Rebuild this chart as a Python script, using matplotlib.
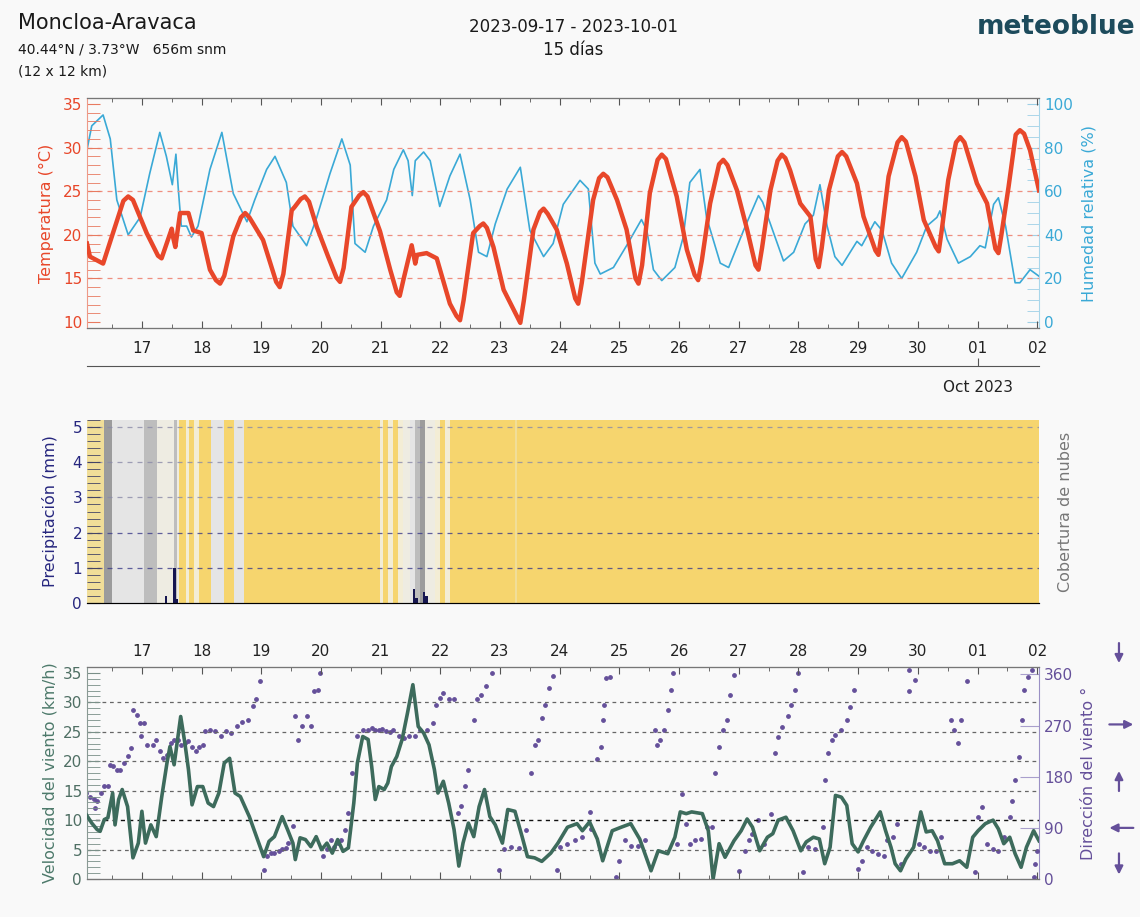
import matplotlib
matplotlib.use('Agg')
import matplotlib.pyplot as plt
import matplotlib.transforms as mtransforms
from matplotlib.colors import ListedColormap, BoundaryNorm
from matplotlib.ticker import MultipleLocator
import numpy as np

# time axis: days since 2023-09-17 00:00
t_start, t_end = -0.92, 15.03
day_labels = ['17', '18', '19', '20', '21', '22', '23', '24', '25', '26',
              '27', '28', '29', '30', '01', '02']

temp_t = [-0.92, -0.87, -0.65, -0.31, -0.23, -0.15, 0.08, 0.27, 0.33, 0.50, 0.52,
          0.56, 0.64, 0.78, 0.86, 1.00, 1.14, 1.24, 1.31, 1.38, 1.53, 1.66, 1.73,
          1.80, 2.03, 2.25, 2.31, 2.37, 2.51, 2.56, 2.66, 2.73, 2.80, 2.93, 3.12,
          3.26, 3.32, 3.38, 3.51, 3.64, 3.71, 3.78, 3.99, 4.16, 4.27, 4.32, 4.38,
          4.52, 4.58, 4.61, 4.77, 4.94, 5.16, 5.27, 5.33, 5.39, 5.55, 5.66, 5.72,
          5.78, 5.89, 6.06, 6.29, 6.34, 6.40, 6.56, 6.67, 6.73, 6.80, 6.95, 7.12,
          7.26, 7.31, 7.37, 7.56, 7.66, 7.73, 7.80, 7.96, 8.12, 8.27, 8.32, 8.38,
          8.51, 8.64, 8.71, 8.78, 8.96, 9.13, 9.26, 9.32, 9.38, 9.52, 9.67, 9.74,
          9.81, 9.97, 10.14, 10.28, 10.33, 10.39, 10.53, 10.65, 10.72, 10.78,
          10.86, 11.03, 11.20, 11.29, 11.34, 11.39, 11.51, 11.66, 11.73, 11.80,
          11.98, 12.09, 12.29, 12.34, 12.39, 12.51, 12.66, 12.73, 12.80, 12.96,
          13.10, 13.30, 13.35, 13.40, 13.51, 13.64, 13.71, 13.78, 13.99, 14.16,
          14.30, 14.35, 14.40, 14.52, 14.64, 14.71, 14.78, 14.88, 15.03]
temp_c = [19.0, 17.5, 16.7, 23.9, 24.4, 24.0, 20.2, 17.6, 17.3, 20.7, 19.8,
          18.6, 22.5, 22.5, 20.5, 20.2, 16.0, 14.8, 14.4, 15.3, 19.8, 22.0, 22.5,
          22.0, 19.4, 14.6, 14.0, 15.5, 22.8, 23.2, 24.1, 24.4, 23.8, 20.9, 17.5,
          15.1, 14.6, 16.2, 23.2, 24.5, 24.9, 24.4, 20.4, 16.0, 13.4, 13.0, 14.8,
          18.8, 16.7, 17.7, 17.9, 17.3, 12.1, 10.7, 10.2, 12.5, 20.2, 21.0, 21.3,
          20.8, 18.6, 13.7, 10.6, 9.9, 12.5, 20.6, 22.6, 23.0, 22.4, 20.6, 16.7,
          12.7, 12.1, 14.5, 24.0, 26.5, 27.0, 26.6, 24.0, 20.6, 15.0, 14.4, 16.5,
          24.8, 28.6, 29.2, 28.7, 24.4, 18.3, 15.4, 14.8, 17.0, 23.6, 28.1, 28.6,
          28.0, 25.1, 20.6, 16.5, 16.0, 18.5, 25.1, 28.5, 29.2, 28.8,
          27.4, 23.6, 22.1, 17.2, 16.3, 18.5, 25.1, 29.0, 29.5, 29.0,
          25.9, 22.1, 18.2, 17.7, 20.0, 26.7, 30.6, 31.2, 30.7, 26.7,
          21.7, 18.6, 18.1, 20.5, 26.3, 30.6, 31.2, 30.6, 25.9, 23.6,
          18.4, 17.9, 20.0, 25.5, 31.5, 32.0, 31.6, 29.7, 25.1]

hum_t = [-0.92, -0.84, -0.65, -0.53, -0.42, -0.23, -0.03, 0.13, 0.30, 0.41, 0.51, 0.57,
         0.61, 0.66, 0.75, 0.83, 0.94, 1.14, 1.34, 1.53, 1.76, 1.89, 2.09, 2.23,
         2.42, 2.53, 2.76, 2.93, 3.15, 3.35, 3.49, 3.57, 3.74, 3.88, 4.10, 4.22,
         4.38, 4.46, 4.53, 4.58, 4.72, 4.83, 4.99, 5.16, 5.33, 5.50, 5.64, 5.78,
         5.92, 6.12, 6.34, 6.50, 6.73, 6.89, 7.06, 7.34, 7.48, 7.59, 7.68, 7.90,
         8.12, 8.37, 8.46, 8.57, 8.71, 8.93, 9.07, 9.18, 9.35, 9.46, 9.69, 9.83,
         10.08, 10.33, 10.40, 10.53, 10.75, 10.92, 11.11, 11.25, 11.36, 11.48,
         11.61, 11.73, 11.98, 12.06, 12.28, 12.40, 12.56, 12.73, 12.98, 13.15,
         13.32, 13.37, 13.49, 13.68, 13.88, 14.04, 14.13, 14.27, 14.35, 14.47,
         14.63, 14.71, 14.88, 15.03]
hum_pct = [79, 90, 95, 84, 56, 40, 48, 68, 87, 76, 63, 77,
           61, 44, 44, 39, 44, 70, 87, 59, 46, 56, 70, 76,
           64, 44, 35, 48, 68, 84, 72, 36, 32, 44, 56, 70,
           79, 74, 58, 74, 78, 74, 53, 67, 77, 56, 32, 30,
           45, 61, 71, 42, 30, 36, 54, 65, 61, 27, 22, 25,
           35, 47, 42, 24, 19, 25, 39, 64, 70, 48, 27, 25,
           42, 58, 55, 45, 28, 32, 45, 49, 63, 44,
           30, 26, 37, 35, 46, 42, 27, 20, 32, 44,
           48, 51, 38, 27, 30, 35, 34, 54, 57, 44,
           18, 18, 24, 21]

# precipitation (mm per hour)
rain_t = [0.40, 0.55, 0.59, 4.56, 4.60, 4.73, 4.77]
rain_mm = [0.2, 1.0, 0.1, 0.4, 0.15, 0.3, 0.2]

# cloud cover: hour offsets from start and cover (%)
cloud_h = [0, 7, 10, 23, 26, 28, 35, 36, 37, 40, 41, 43, 45, 50, 55, 59, 63,
           118, 119, 121, 123, 125, 127, 130, 132, 134, 136, 140, 142, 144, 146,
           172, 173, 383]
cloud_pct = [30, 95, 75, 85, 80, 55, 85, 55, 0, 35, 0, 35, 0, 75, 0, 75, 0,
             35, 0, 35, 0, 35, 60, 75, 80, 92, 55, 40, 0, 40, 0, 30, 0]

wind_t = [-0.93, -0.84, -0.75, -0.70, -0.63, -0.57, -0.49, -0.45, -0.39, -0.33, -0.24,
          -0.15, -0.06, 0.00, 0.06, 0.15, 0.24, 0.33, 0.42, 0.47, 0.54, 0.65, 0.72,
          0.78, 0.84, 0.93, 1.02, 1.11, 1.20, 1.29, 1.38, 1.47, 1.56, 1.65, 1.80,
          1.92, 2.04, 2.13, 2.22, 2.35, 2.44, 2.53, 2.57, 2.65, 2.74, 2.83, 2.92,
          3.01, 3.10, 3.19, 3.28, 3.37, 3.46, 3.55, 3.61, 3.70, 3.79, 3.85, 3.91,
          3.97, 4.06, 4.12, 4.18, 4.27, 4.36, 4.45, 4.54, 4.63, 4.72, 4.81, 4.90,
          4.96, 5.05, 5.14, 5.23, 5.31, 5.38, 5.47, 5.56, 5.65, 5.74, 5.83, 5.92,
          6.04, 6.13, 6.25, 6.37, 6.46, 6.58, 6.70, 6.85, 6.97, 7.13, 7.29, 7.38,
          7.50, 7.63, 7.72, 7.88, 8.03, 8.19, 8.34, 8.53, 8.65, 8.81, 8.93, 9.02,
          9.12, 9.21, 9.39, 9.49, 9.57, 9.67, 9.77, 9.92, 10.04, 10.14, 10.23,
          10.35, 10.48, 10.57, 10.66, 10.79, 10.91, 11.04, 11.13, 11.25, 11.35,
          11.44, 11.53, 11.62, 11.72, 11.81, 11.90, 12.00, 12.09, 12.21, 12.37,
          12.46, 12.55, 12.62, 12.71, 12.80, 12.93, 13.05, 13.14, 13.24, 13.33,
          13.45, 13.58, 13.70, 13.82, 13.92, 14.01, 14.13, 14.26, 14.35, 14.44,
          14.54, 14.63, 14.73, 14.82, 14.94, 15.03]
wind_kmh = [10.9, 9.5, 8.4, 8.1, 10.1, 10.4, 14.6, 9.2, 13.5, 15.2, 12.3,
            3.6, 6.1, 11.5, 6.1, 9.2, 7.2, 13.8, 19.7, 22.5, 19.4, 27.6, 23.1,
            18.6, 12.6, 15.7, 15.7, 12.9, 12.3, 14.6, 19.7, 20.5, 14.6, 14.0, 10.6,
            7.2, 3.8, 6.4, 7.2, 10.6, 8.4, 6.1, 3.3, 7.0, 6.7, 5.5, 7.2,
            5.0, 6.1, 4.4, 6.7, 4.7, 5.3, 12.9, 19.7, 24.2, 23.7, 19.1, 13.5,
            15.7, 15.2, 16.3, 19.1, 20.8, 23.7, 28.2, 33.0, 25.9, 24.8, 22.8, 18.6,
            14.6, 16.6, 12.9, 8.4, 2.2, 6.1, 9.5, 7.2, 12.3, 15.2, 10.6, 9.2,
            6.1, 11.8, 11.5, 7.2, 3.8, 3.6, 3.0, 4.4, 6.1, 8.8, 9.4, 8.2,
            9.7, 6.8, 3.1, 8.2, 8.8, 9.4, 6.8, 1.4, 4.8, 4.3, 7.1, 11.4,
            11.1, 11.4, 11.1, 8.2, 0.0, 6.0, 3.7, 6.5, 8.2, 10.2, 8.8,
            4.8, 7.1, 7.7, 10.0, 10.5, 8.2, 4.8, 6.3, 7.1, 6.8,
            2.6, 5.4, 14.2, 13.9, 12.5, 6.0, 4.6, 6.5, 8.8, 11.4,
            8.2, 5.4, 2.6, 1.4, 3.4, 5.4, 11.4, 8.0, 8.2, 6.5,
            2.6, 2.6, 3.1, 2.0, 7.1, 8.2, 9.4, 10.0, 8.5, 6.0,
            7.1, 4.3, 2.0, 5.4, 8.2, 6.5]

dir_t = [-0.93, -0.87, -0.81, -0.78, -0.75, -0.69, -0.63, -0.57, -0.54, -0.48, -0.42,
         -0.36, -0.30, -0.24, -0.18, -0.15, -0.09, -0.03, -0.01, 0.03, 0.09, 0.18,
         0.24, 0.30, 0.36, 0.42, 0.48, 0.54, 0.60, 0.66, 0.72, 0.78, 0.84, 0.90,
         0.96, 1.02, 1.05, 1.14, 1.23, 1.32, 1.41, 1.50, 1.59, 1.68, 1.77, 1.86,
         1.92, 1.98, 2.04, 2.10, 2.16, 2.22, 2.29, 2.35, 2.41, 2.44, 2.53, 2.56,
         2.62, 2.68, 2.77, 2.83, 2.89, 2.95, 2.99, 3.04, 3.10, 3.16, 3.22, 3.28,
         3.34, 3.40, 3.46, 3.52, 3.61, 3.70, 3.79, 3.85, 3.91, 3.97, 4.03, 4.09,
         4.15, 4.21, 4.30, 4.39, 4.48, 4.57, 4.66, 4.78, 4.87, 4.93, 4.99, 5.05,
         5.14, 5.23, 5.29, 5.35, 5.41, 5.47, 5.56, 5.62, 5.68, 5.77, 5.86, 5.98,
         6.07, 6.19, 6.31, 6.43, 6.52, 6.58, 6.64, 6.70, 6.76, 6.82, 6.89, 6.95,
         7.01, 7.13, 7.26, 7.38, 7.50, 7.53, 7.63, 7.69, 7.72, 7.75, 7.78, 7.85,
         7.94, 8.00, 8.09, 8.19, 8.31, 8.43, 8.59, 8.63, 8.68, 8.74, 8.81, 8.87,
         8.90, 8.96, 9.05, 9.12, 9.18, 9.27, 9.36, 9.46, 9.55, 9.61, 9.67, 9.73,
         9.80, 9.86, 9.92, 10.01, 10.11, 10.17, 10.23, 10.32, 10.42, 10.54, 10.60,
         10.66, 10.73, 10.82, 10.88, 10.94, 11.00, 11.07, 11.16, 11.28, 11.41,
         11.44, 11.50, 11.56, 11.62, 11.72, 11.81, 11.87, 11.93, 12.00, 12.06,
         12.15, 12.24, 12.34, 12.43, 12.49, 12.59, 12.65, 12.71, 12.86, 12.86,
         12.96, 13.02, 13.11, 13.20, 13.30, 13.39, 13.55, 13.61, 13.67, 13.73,
         13.82, 13.95, 14.01, 14.07, 14.16, 14.26, 14.35, 14.44, 14.54, 14.57,
         14.63, 14.69, 14.75, 14.78, 14.85, 14.91, 14.94, 14.96, 15.00]
dir_deg = [151, 145, 140, 125, 137, 151, 163, 163, 201, 198, 192,
           192, 204, 216, 230, 298, 289, 274, 251, 274, 236, 236,
           245, 225, 213, 219, 239, 245, 245, 236, 239, 242, 233, 225,
           233, 236, 260, 263, 260, 251, 260, 257, 269, 277, 280, 304,
           316, 348, 16, 40, 46, 46, 49, 52, 55, 63, 93, 286,
           245, 269, 286, 269, 330, 333, 362, 40, 52, 69, 57, 63,
           69, 87, 116, 187, 251, 263, 263, 265, 263, 262, 264, 260,
           258, 262, 251, 248, 251, 251, 263, 263, 274, 307, 318, 327,
           316, 316, 116, 128, 163, 192, 280, 316, 324, 339, 362, 16,
           52, 57, 55, 87, 187, 236, 245, 283, 307, 336, 357, 16,
           56, 62, 68, 74, 118, 88, 212, 233, 280, 306, 353, 356,
           3, 32, 68, 59, 59, 68, 262, 236, 244, 262, 297, 333,
           362, 62, 150, 97, 62, 68, 71, 91, 91, 186, 233, 262,
           280, 324, 359, 15, 50, 68, 80, 103, 62, 115, 221,
           250, 268, 286, 306, 333, 362, 12, 56, 53, 91,
           174, 221, 244, 253, 262, 280, 303, 333, 18, 32,
           56, 50, 44, 41, 68, 74, 97, 27, 368, 330,
           350, 62, 56, 50, 50, 74, 280, 262, 239, 280,
           348, 12, 109, 127, 62, 53, 50, 74, 109, 138,
           174, 215, 280, 333, 356, 368, 3, 26, 50]

c_temp = '#e8472a'
c_hum = '#3aa9d6'
c_rain = '#27277f'
c_wind = '#3d6b5c'
c_dir = '#65509a'
bg = '#f9f9f9'

fig = plt.figure(figsize=(11.4, 9.17), dpi=100, facecolor=bg)


def day_axis(ax, labeltop=False):
    ax.set_xlim(t_start, t_end)
    ax.set_xticks(range(len(day_labels)))
    ax.set_xticklabels(day_labels)
    ax.xaxis.set_minor_locator(MultipleLocator(0.5))
    ax.tick_params(axis='x', which='both', direction='in', top=True, bottom=True,
                   color='#555555', labelsize=11, labelcolor='#222222')
    ax.tick_params(axis='x', which='major', length=5)
    ax.tick_params(axis='x', which='minor', length=3)
    if labeltop:
        ax.tick_params(axis='x', labeltop=True, labelbottom=False, pad=6)


# ---- temperature / humidity ----
ax1 = fig.add_axes([0.0763, 0.6423, 0.8351, 0.2508], facecolor=bg)
day_axis(ax1)
ax1.tick_params(axis='x', pad=9)
ax1.set_ylim(9.31, 35.69)
ax1.set_yticks([10, 15, 20, 25, 30, 35])
ax1.yaxis.set_minor_locator(MultipleLocator(1))
ax1.tick_params(axis='y', which='both', direction='in', length=9, color='#e87a60',
                labelcolor=c_temp, labelsize=11)
for v in [15, 20, 25, 30]:
    ax1.axhline(v, color='#ef8f80', lw=0.9, ls=(0, (4, 4)), zorder=1)
ax1.plot(temp_t, temp_c, color=c_temp, lw=3.2, zorder=4, solid_joinstyle='round')
ax1.set_ylabel('Temperatura (°C)', color=c_temp, fontsize=11.5, labelpad=6)

ax1h = ax1.twinx()
ax1h.set_ylim((9.31 - 10) * 4, (35.69 - 10) * 4)
ax1h.set_yticks([0, 20, 40, 60, 80, 100])
ax1h.yaxis.set_minor_locator(MultipleLocator(5))
ax1h.tick_params(axis='y', which='both', direction='in', length=9, color='#9fd0e6',
                 labelcolor=c_hum, labelsize=11)
ax1h.plot(hum_t, hum_pct, color=c_hum, lw=1.2, zorder=3)
ax1h.set_ylabel('Humedad relativa (%)', color=c_hum, fontsize=11.5, labelpad=6)
ax1.set_zorder(ax1h.get_zorder() + 1)
ax1.patch.set_visible(False)
ax1h.patch.set_facecolor(bg)
ax1.spines['left'].set_color('#ee9a88')
ax1.spines['right'].set_visible(False)
ax1h.spines['right'].set_color('#a9d6ea')
ax1h.spines['left'].set_visible(False)
for s in ['top', 'bottom']:
    ax1.spines[s].set_color('#777777')

# month line under the first panel
axm = fig.add_axes([0.0763, 0.601, 0.8351, 0.0001], facecolor=bg)
axm.set_xlim(t_start, t_end)
axm.set_yticks([])
for s in ['top', 'left', 'right']:
    axm.spines[s].set_visible(False)
axm.spines['bottom'].set_color('#555555')
axm.set_xticks([14])
axm.set_xticklabels(['Oct 2023'])
axm.tick_params(axis='x', direction='in', length=6, color='#555555', labelsize=11,
                labelcolor='#222222', pad=10)

# ---- precipitation / cloud cover ----
ax2 = fig.add_axes([0.0763, 0.3424, 0.8351, 0.1996], facecolor=bg)
ax2.set_xlim(t_start, t_end)
ax2.set_ylim(0, 5.2)
cloud_edges = t_start + np.array(cloud_h) / 24.0
cloud_cmap = ListedColormap(['#f6d56e', '#f1de98', '#f3edd5', '#eeece2',
                             '#e5e5e5', '#bdbdbd', '#9c9c9c'])
cloud_norm = BoundaryNorm([0, 15, 32, 50, 65, 78, 88, 101], cloud_cmap.N)
ax2.pcolormesh(cloud_edges, [0, 5.2], np.array([cloud_pct]), cmap=cloud_cmap,
               norm=cloud_norm, zorder=0)
for v in [3, 4, 5]:
    ax2.axhline(v, color='#8a8aa8', lw=0.9, ls=(0, (4, 4)), alpha=0.8, zorder=1)
for v in [1, 2]:
    ax2.axhline(v, color='#3c3c8a', lw=0.9, ls=(0, (4, 4)), alpha=0.8, zorder=1)
ax2.bar(rain_t, rain_mm, width=1 / 24, color='#161650', zorder=3)
ax2.set_xticks(range(len(day_labels)))
ax2.tick_params(axis='x', which='both', bottom=False, top=False, labelbottom=False)
ax2.set_yticks([0, 1, 2, 3, 4, 5])
ax2.yaxis.set_minor_locator(MultipleLocator(0.2))
ax2.tick_params(axis='y', which='both', direction='in', length=9, color='#444466',
                labelcolor=c_rain, labelsize=11)
ax2.set_ylabel('Precipitación (mm)', color=c_rain, fontsize=11.5, labelpad=10)
ax2c = ax2.twinx()
ax2c.set_yticks([])
ax2c.set_ylabel('Cobertura de nubes', color='#777777', fontsize=11.5, labelpad=14)
for a in (ax2, ax2c):
    for s in ['top', 'right', 'left']:
        a.spines[s].set_visible(False)
ax2.spines['bottom'].set_color('#333366')

# ---- wind speed / direction ----
ax3 = fig.add_axes([0.0763, 0.0414, 0.8351, 0.2312], facecolor=bg)
day_axis(ax3, labeltop=True)
ax3.set_ylim(0, 36)
ax3.set_yticks([0, 5, 10, 15, 20, 25, 30, 35])
ax3.yaxis.set_minor_locator(MultipleLocator(1))
ax3.tick_params(axis='y', which='both', direction='in', length=9, color='#7a8f88',
                labelcolor='#4f6f64', labelsize=11)
for v in [5, 15, 20, 25, 30]:
    ax3.axhline(v, color='#666666', lw=0.9, ls=(0, (3, 3)), zorder=1)
ax3.axhline(10, color='#111111', lw=1.0, ls=(0, (3, 3)), zorder=1)
ax3.set_ylabel('Velocidad del viento (km/h)', color='#4d7a6b', fontsize=11.5, labelpad=4)

ax3d = ax3.twinx()
ax3d.set_ylim(0, 373)
ax3d.set_yticks([0, 90, 180, 270, 360])
ax3d.tick_params(axis='y', direction='in', length=14, color='#a99fcc',
                 labelcolor=c_dir, labelsize=11)
ax3d.scatter(dir_t, dir_deg, s=6, color=c_dir, zorder=3)
ax3d.set_ylabel('Dirección del viento °', color=c_dir, fontsize=11.5, labelpad=6)
ax3.set_zorder(ax3d.get_zorder() + 1)
ax3.patch.set_visible(False)
ax3d.patch.set_facecolor(bg)
ax3.plot(wind_t, wind_kmh, color=c_wind, lw=2.6, zorder=4, solid_joinstyle='round')
ax3.spines['left'].set_color('#8a9a94')
ax3.spines['right'].set_visible(False)
ax3d.spines['right'].set_color('#9a90c4')
ax3d.spines['left'].set_visible(False)
for s in ['top', 'bottom']:
    ax3.spines[s].set_color('#777777')

# compass arrows beside the direction axis
tr = mtransforms.blended_transform_factory(ax3d.transAxes, ax3d.transData)
arrow_kw = dict(arrowstyle='-|>', color=c_dir, lw=1.6, mutation_scale=12)
compass = [((1.084, 420), (1.084, 375)),   # north wind: arrow down
           ((1.071, 272), (1.102, 272)),   # west: arrow right
           ((1.084, 150), (1.084, 195)),   # south: arrow up
           ((1.102, 90), (1.071, 90)),     # east: arrow left
           ((1.084, 50), (1.084, 3))]      # north again
for start, end in compass:
    ax3d.annotate('', xy=end, xytext=start, xycoords=tr, textcoords=tr,
                  arrowprops=arrow_kw, annotation_clip=False)

# ---- header ----
fig.text(0.016, 0.975, 'Moncloa-Aravaca', fontsize=15, color='#1a1a1a', va='center')
fig.text(0.016, 0.946, '40.44°N / 3.73°W   656m snm', fontsize=10, color='#1a1a1a',
         va='center')
fig.text(0.016, 0.922, '(12 x 12 km)', fontsize=10, color='#1a1a1a', va='center')
fig.text(0.503, 0.971, '2023-09-17 - 2023-10-01', fontsize=12, color='#1a1a1a',
         ha='center', va='center')
fig.text(0.503, 0.946, '15 días', fontsize=12, color='#1a1a1a', ha='center',
         va='center')
fig.text(0.996, 0.971, 'meteoblue', fontsize=19, fontweight='bold', color='#1d4b5c',
         ha='right', va='center')

fig.savefig('out.png', dpi=100, facecolor=bg)
